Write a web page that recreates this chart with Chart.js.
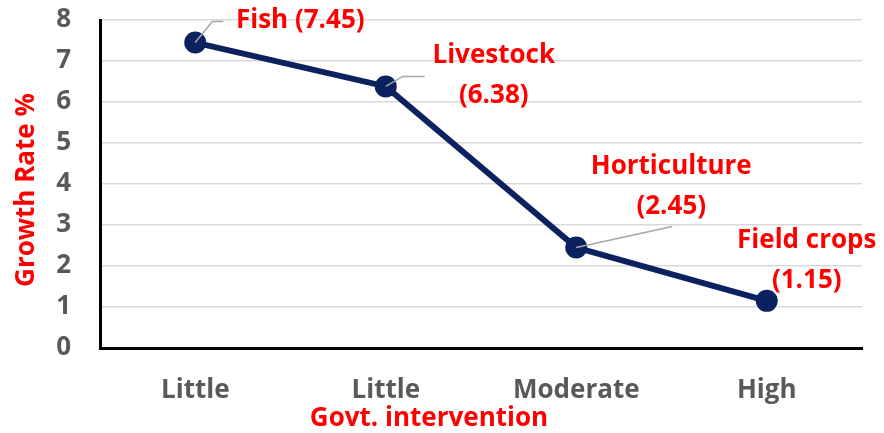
<!DOCTYPE html>
<html>
<head>
<meta charset="utf-8">
<script src="https://cdn.jsdelivr.net/npm/chart.js@4.4.1/dist/chart.umd.min.js"></script>
<style>
  html, body { margin: 0; padding: 0; background: #fff; }
  #wrap { width: 884px; height: 433px; position: relative; }
</style>
</head>
<body>
<div id="wrap"><canvas id="growth"></canvas></div>
<script>
// chart data
const categories = ['Little', 'Little', 'Moderate', 'High'];
const growthRate = [7.45, 6.38, 2.45, 1.15];
const sectorNames = ['Fish', 'Livestock', 'Horticulture', 'Field crops'];
const yTicks = [0, 1, 2, 3, 4, 5, 6, 7, 8];
const xTitle = 'Govt. intervention';
const yTitle = 'Growth Rate %';

// label placement relative to each point (px): text centre, whether split in two lines, leader elbow
const labelStyle = [
    { dx: 105, dy: -22, split: false, leader: [[17, -21], [28, -21]] },
    { dx: 108, dy: -11, split: true, leader: [[17, -10], [39, -10]] },
    { dx: 95, dy: -61, split: true, leader: [[96, -21]] },
    { dx: 40, dy: -40, split: true, leader: null }
];

const FONT = '"Open Sans", Lato, sans-serif';
const BOLD26 = 'bold 26px ' + FONT;

const overlay = {
    id: 'overlay',
    afterDatasetsDraw(chart) {
        const ctx = chart.ctx;
        const meta = chart.getDatasetMeta(0);
        ctx.save();
        meta.data.forEach((pt, i) => {
            const s = labelStyle[i];
            if (s.leader) {
                ctx.strokeStyle = '#a6a6a6';
                ctx.lineWidth = 1.5;
                ctx.beginPath();
                ctx.moveTo(pt.x, pt.y);
                s.leader.forEach(p => ctx.lineTo(pt.x + p[0], pt.y + p[1]));
                ctx.stroke();
            }
            ctx.fillStyle = '#ff0000';
            ctx.font = BOLD26;
            ctx.textAlign = 'center';
            ctx.textBaseline = 'middle';
            const val = '(' + growthRate[i].toFixed(2) + ')';
            if (s.split) {
                ctx.fillText(sectorNames[i], pt.x + s.dx, pt.y + s.dy - 20);
                ctx.fillText(val, pt.x + s.dx, pt.y + s.dy + 20);
            } else {
                ctx.fillText(sectorNames[i] + ' ' + val, pt.x + s.dx, pt.y + s.dy);
            }
        });

        // axis titles (Excel centres them a bit off the plot area)
        ctx.fillStyle = '#ff0000';
        ctx.font = BOLD26;
        ctx.textAlign = 'center';
        ctx.textBaseline = 'middle';
        ctx.fillText(xTitle, 429, 419);
        ctx.translate(27, 190);
        ctx.rotate(-Math.PI / 2);
        ctx.fillText(yTitle, 0, 0);
        ctx.restore();
    }
};

new Chart(document.getElementById('growth'), {
    type: 'line',
    data: {
        labels: categories,
        datasets: [{
            data: growthRate,
            borderColor: '#0c2260',
            borderWidth: 6,
            pointRadius: 8,
            pointBackgroundColor: '#0c2260',
            pointBorderColor: '#0c2260',
            tension: 0
        }]
    },
    options: {
        responsive: true,
        maintainAspectRatio: false,
        animation: false,
        layout: { padding: { top: 0, right: 22, left: 0, bottom: 0 } },
        plugins: { legend: { display: false }, tooltip: { enabled: false } },
        scales: {
            x: {
                offset: true,
                grid: { display: false },
                border: { color: '#000', width: 3 },
                ticks: { color: '#595959', padding: 19, font: { family: FONT, size: 26, weight: 'bold' } },
                afterFit: (scale) => { scale.height = 85; }
            },
            y: {
                min: 0,
                max: 8,
                afterBuildTicks: (scale) => { scale.ticks = yTicks.map(v => ({ value: v })); },
                grid: { color: '#d9d9d9', lineWidth: 1.5, drawTicks: false },
                border: { color: '#000', width: 3 },
                ticks: { color: '#595959', padding: 29, font: { family: FONT, size: 26, weight: 'bold' } },
                afterFit: (scale) => {
                    scale.width = 100;
                    scale.paddingTop = 20;
                    scale.paddingBottom = 0;
                }
            }
        }
    },
    plugins: [overlay]
});
</script>
</body>
</html>
